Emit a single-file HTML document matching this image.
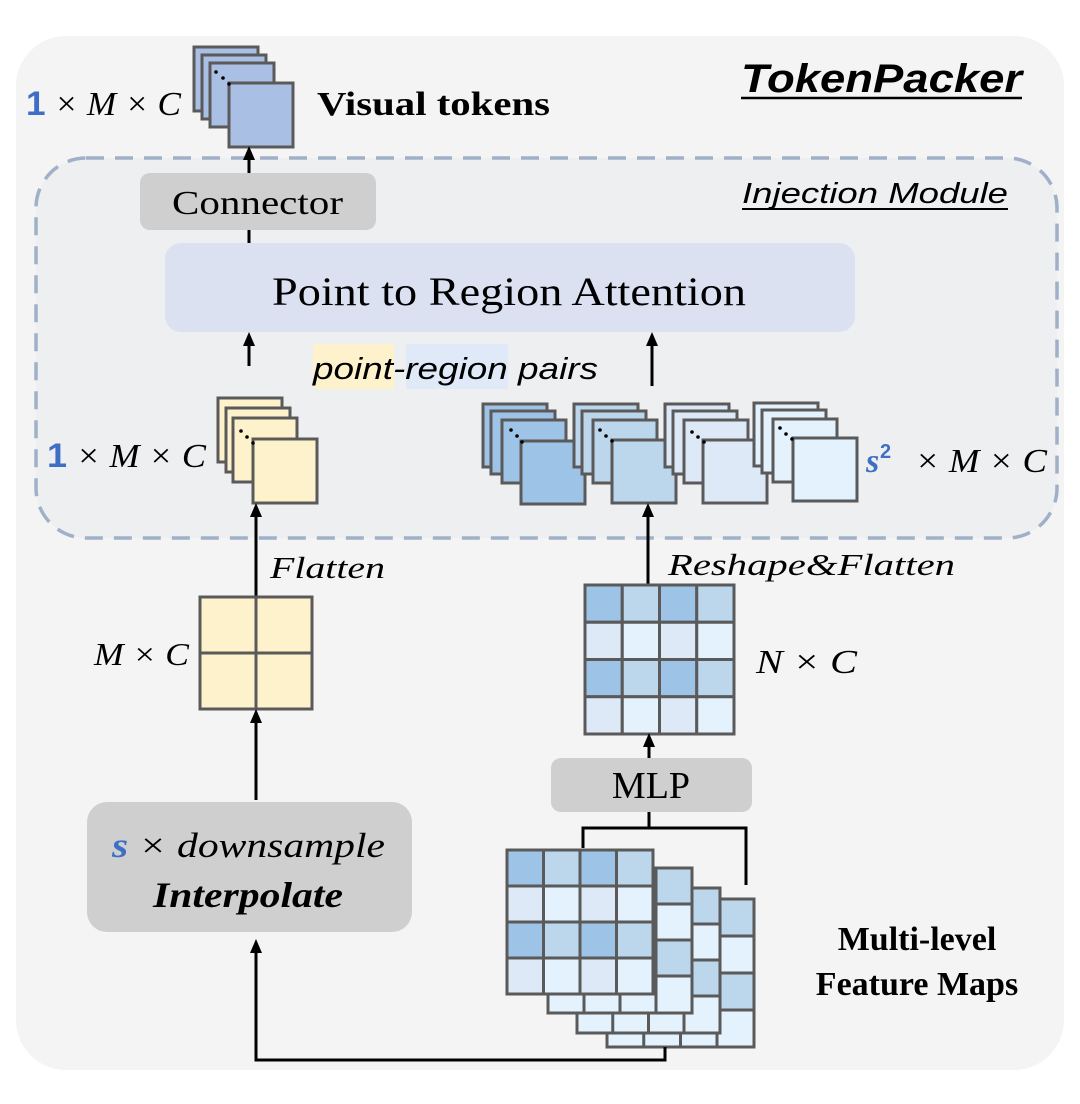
<!DOCTYPE html>
<html><head><meta charset="utf-8"><style>
html,body{margin:0;padding:0;background:#fff;}
svg{display:block;}
.serif{font-family:"Liberation Serif",serif;}
.sans{font-family:"Liberation Sans",sans-serif;}
</style></head><body>
<svg width="1080" height="1104" viewBox="0 0 1080 1104" xmlns="http://www.w3.org/2000/svg">
<defs>
<marker id="ah" markerWidth="14" markerHeight="12" refX="10" refY="6" orient="auto" markerUnits="userSpaceOnUse" viewBox="0 0 14 12">
<path d="M0,0 L14,6 L0,12 z" fill="#000"/></marker>
</defs>
<rect x="16" y="36" width="1048" height="1034" rx="50" fill="#f4f4f4"/>
<rect x="36" y="158" width="1021" height="380" rx="50" fill="#eeeff1" stroke="#9fb0c8" stroke-width="3.5" stroke-dasharray="18,11"/>

<text x="741" y="92" class="sans" font-size="40" font-weight="bold" font-style="italic" textLength="281" lengthAdjust="spacingAndGlyphs">TokenPacker</text>
<line x1="741" y1="98" x2="1022" y2="98" stroke="#000" stroke-width="2.5"/>
<text x="742" y="203" class="sans" font-size="29" font-style="italic" textLength="266" lengthAdjust="spacingAndGlyphs">Injection Module</text>
<line x1="742" y1="209" x2="1008" y2="209" stroke="#000" stroke-width="2"/>

<!-- visual tokens stack -->
<g stroke="#5a5a5a" stroke-width="3" fill="#a9bfe3">
<rect x="194" y="47" width="64" height="64"/>
<rect x="202" y="55" width="64" height="64"/>
<rect x="210" y="63" width="64" height="64"/>
<rect x="229" y="83" width="64" height="64"/>
</g>
<circle cx="216" cy="72" r="1.8"/><circle cx="223" cy="78" r="1.8"/><circle cx="229" cy="84" r="1.8"/>
<text x="26" y="115" class="serif" font-size="34" font-style="italic" textLength="155" lengthAdjust="spacingAndGlyphs"><tspan fill="#3f6fc4" font-weight="bold" font-style="normal" font-family="Liberation Sans">1</tspan> × M × C</text>
<text x="317" y="115" class="serif" font-size="34" font-weight="bold" textLength="233" lengthAdjust="spacingAndGlyphs">Visual tokens</text>

<line x1="249" y1="175" x2="249" y2="150" stroke="#000" stroke-width="3" marker-end="url(#ah)"/>
<rect x="140" y="173" width="236" height="57" rx="10" fill="#d0cfd0"/>
<text x="172" y="214" class="serif" font-size="34" textLength="171" lengthAdjust="spacingAndGlyphs">Connector</text>
<line x1="249" y1="230" x2="249" y2="243" stroke="#000" stroke-width="3"/>

<rect x="165" y="243" width="690" height="89" rx="16" fill="#dce1f2"/>
<text x="272" y="305" class="serif" font-size="40" textLength="474" lengthAdjust="spacingAndGlyphs">Point to Region Attention</text>

<line x1="249" y1="366" x2="249" y2="336" stroke="#000" stroke-width="3" marker-end="url(#ah)"/>
<line x1="652" y1="386" x2="652" y2="336" stroke="#000" stroke-width="3" marker-end="url(#ah)"/>

<rect x="313" y="344" width="81" height="45" fill="#fdf2cc"/>
<rect x="406" y="344" width="102" height="45" fill="#dfe9f7"/>
<text x="313" y="379" class="sans" font-size="31" font-style="italic" textLength="285" lengthAdjust="spacingAndGlyphs">point-region pairs</text>

<!-- yellow stack -->
<g stroke="#5a5a5a" stroke-width="3" fill="#fef2cc">
<rect x="218" y="398" width="64" height="64"/>
<rect x="226" y="408" width="64" height="64"/>
<rect x="233" y="418" width="64" height="64"/>
<rect x="253" y="439" width="64" height="64"/>
</g>
<circle cx="241" cy="431" r="1.8"/><circle cx="247" cy="437" r="1.8"/><circle cx="253" cy="443" r="1.8"/>
<text x="47" y="467" class="serif" font-size="34" font-style="italic" textLength="159" lengthAdjust="spacingAndGlyphs"><tspan fill="#3f6fc4" font-weight="bold" font-style="normal" font-family="Liberation Sans">1</tspan> × M × C</text>

<!-- blue stacks -->
<g stroke="#5a5a5a" stroke-width="3">
<g fill="#9dc3e6">
<rect x="483" y="404" width="64" height="63"/><rect x="491" y="411" width="64" height="63"/><rect x="502" y="420" width="64" height="63"/><rect x="521" y="441" width="64" height="63"/></g>
<g fill="#bcd7ec">
<rect x="574" y="404" width="64" height="63"/><rect x="582" y="411" width="64" height="63"/><rect x="593" y="420" width="64" height="63"/><rect x="612" y="440" width="64" height="63"/></g>
<g fill="#dde9f7">
<rect x="665" y="404" width="64" height="63"/><rect x="673" y="411" width="64" height="63"/><rect x="684" y="420" width="64" height="63"/><rect x="703" y="440" width="64" height="63"/></g>
<g fill="#e3f2fd">
<rect x="754" y="403" width="64" height="63"/><rect x="762" y="410" width="64" height="63"/><rect x="773" y="419" width="64" height="63"/><rect x="793" y="438" width="64" height="63"/></g>
</g>
<g fill="#000">
<circle cx="511" cy="430" r="1.8"/><circle cx="517" cy="436" r="1.8"/><circle cx="522" cy="442" r="1.8"/>
<circle cx="600" cy="430" r="1.8"/><circle cx="606" cy="436" r="1.8"/><circle cx="612" cy="441" r="1.8"/>
<circle cx="692" cy="432" r="1.8"/><circle cx="698" cy="437" r="1.8"/><circle cx="704" cy="442" r="1.8"/>
<circle cx="780" cy="428" r="1.8"/><circle cx="786" cy="434" r="1.8"/><circle cx="792" cy="439" r="1.8"/>
</g>
<text x="866" y="472" class="serif" font-size="34" font-style="italic" fill="#3f6fc4" font-weight="bold">s</text>
<text x="880" y="458" class="sans" font-size="20" fill="#3f6fc4" font-weight="bold">2</text>
<text x="915" y="472" class="serif" font-size="34" font-style="italic" textLength="132" lengthAdjust="spacingAndGlyphs">× M × C</text>

<!-- flatten -->
<line x1="256" y1="597" x2="256" y2="507" stroke="#000" stroke-width="3" marker-end="url(#ah)"/>
<text x="270" y="578" class="serif" font-size="31" font-style="italic" textLength="115" lengthAdjust="spacingAndGlyphs">Flatten</text>
<line x1="648" y1="585" x2="648" y2="507" stroke="#000" stroke-width="3" marker-end="url(#ah)"/>
<text x="668" y="575" class="serif" font-size="31" font-style="italic" textLength="287" lengthAdjust="spacingAndGlyphs">Reshape&amp;Flatten</text>

<!-- M x C grid -->
<g stroke="#5a5a5a" stroke-width="3" fill="#fef2cc">
<rect x="200" y="597" width="56" height="56"/><rect x="256" y="597" width="56" height="56"/>
<rect x="200" y="653" width="56" height="56"/><rect x="256" y="653" width="56" height="56"/>
</g>
<text x="94" y="665" class="serif" font-size="32" font-style="italic" textLength="95" lengthAdjust="spacingAndGlyphs">M × C</text>

<line x1="256" y1="800" x2="256" y2="713" stroke="#000" stroke-width="3" marker-end="url(#ah)"/>
<rect x="87" y="802" width="325" height="130" rx="20" fill="#d0cfd0"/>
<text x="112" y="857" class="serif" font-size="35" font-style="italic" textLength="273" lengthAdjust="spacingAndGlyphs"><tspan fill="#3f6fc4" font-weight="bold">s</tspan> × downsample</text>
<text x="153" y="907" class="serif" font-size="36" font-style="italic" font-weight="bold" textLength="190" lengthAdjust="spacingAndGlyphs">Interpolate</text>

<!-- N x C grid -->
<g stroke="#5a5a5a" stroke-width="3">
<rect x="585" y="585" width="37.25" height="37.25" fill="#9dc3e6"/><rect x="622.25" y="585" width="37.25" height="37.25" fill="#bcd7ec"/><rect x="659.5" y="585" width="37.25" height="37.25" fill="#9dc3e6"/><rect x="696.75" y="585" width="37.25" height="37.25" fill="#bcd7ec"/>
<rect x="585" y="622.25" width="37.25" height="37.25" fill="#dde9f7"/><rect x="622.25" y="622.25" width="37.25" height="37.25" fill="#e3f2fd"/><rect x="659.5" y="622.25" width="37.25" height="37.25" fill="#dde9f7"/><rect x="696.75" y="622.25" width="37.25" height="37.25" fill="#e3f2fd"/>
<rect x="585" y="659.5" width="37.25" height="37.25" fill="#9dc3e6"/><rect x="622.25" y="659.5" width="37.25" height="37.25" fill="#bcd7ec"/><rect x="659.5" y="659.5" width="37.25" height="37.25" fill="#9dc3e6"/><rect x="696.75" y="659.5" width="37.25" height="37.25" fill="#bcd7ec"/>
<rect x="585" y="696.75" width="37.25" height="37.25" fill="#dde9f7"/><rect x="622.25" y="696.75" width="37.25" height="37.25" fill="#e3f2fd"/><rect x="659.5" y="696.75" width="37.25" height="37.25" fill="#dde9f7"/><rect x="696.75" y="696.75" width="37.25" height="37.25" fill="#e3f2fd"/>
</g>
<text x="756" y="673" class="serif" font-size="34" font-style="italic" textLength="101" lengthAdjust="spacingAndGlyphs">N × C</text>

<line x1="649" y1="758" x2="649" y2="737" stroke="#000" stroke-width="3" marker-end="url(#ah)"/>
<rect x="551" y="758" width="201" height="54" rx="10" fill="#d0cfd0"/>
<text x="651" y="798" class="serif" font-size="38" text-anchor="middle">MLP</text>
<path d="M649,812 V828 M583,848 V828 H746 V885" stroke="#000" stroke-width="3" fill="none"/>

<!-- feature maps -->
<g stroke="#5a5a5a" stroke-width="3">
<rect x="607" y="899" width="147" height="148" fill="#e3f2fd"/>
<rect x="717" y="899" width="37" height="37" fill="#bcd7ec"/><rect x="717" y="973" width="37" height="37" fill="#bcd7ec"/>
<path d="M607,1010 H754 M607,973 H754 M607,936 H754 M643.75,899 V1047 M680.5,899 V1047 M717,899 V1047" fill="none"/>
<rect x="577" y="888" width="143" height="145" fill="#e3f2fd"/>
<rect x="684" y="888" width="36" height="36" fill="#bcd7ec"/><rect x="684" y="960" width="36" height="36" fill="#bcd7ec"/>
<path d="M577,996 H720 M577,960 H720 M577,924 H720 M612.75,888 V1033 M648.5,888 V1033 M684,888 V1033" fill="none"/>
<rect x="548" y="868" width="144" height="145" fill="#e3f2fd"/>
<rect x="656" y="868" width="36" height="36" fill="#bcd7ec"/><rect x="656" y="940" width="36" height="36" fill="#bcd7ec"/>
<path d="M548,976 H692 M548,940 H692 M548,904 H692 M584,868 V1013 M620,868 V1013 M656,868 V1013" fill="none"/>
<rect x="507" y="850" width="36.5" height="36" fill="#9dc3e6"/><rect x="543.5" y="850" width="36.5" height="36" fill="#bcd7ec"/><rect x="580" y="850" width="36.5" height="36" fill="#9dc3e6"/><rect x="616.5" y="850" width="36.5" height="36" fill="#bcd7ec"/>
<rect x="507" y="886" width="36.5" height="36" fill="#dde9f7"/><rect x="543.5" y="886" width="36.5" height="36" fill="#e3f2fd"/><rect x="580" y="886" width="36.5" height="36" fill="#dde9f7"/><rect x="616.5" y="886" width="36.5" height="36" fill="#e3f2fd"/>
<rect x="507" y="922" width="36.5" height="36" fill="#9dc3e6"/><rect x="543.5" y="922" width="36.5" height="36" fill="#bcd7ec"/><rect x="580" y="922" width="36.5" height="36" fill="#9dc3e6"/><rect x="616.5" y="922" width="36.5" height="36" fill="#bcd7ec"/>
<rect x="507" y="958" width="36.5" height="36" fill="#dde9f7"/><rect x="543.5" y="958" width="36.5" height="36" fill="#e3f2fd"/><rect x="580" y="958" width="36.5" height="36" fill="#dde9f7"/><rect x="616.5" y="958" width="36.5" height="36" fill="#e3f2fd"/>
</g>
<text x="917" y="950" class="serif" font-size="34" font-weight="bold" text-anchor="middle">Multi-level</text>
<text x="917" y="995" class="serif" font-size="34" font-weight="bold" text-anchor="middle">Feature Maps</text>

<path d="M665,1047 V1060 H256 V943" stroke="#000" stroke-width="3" fill="none" marker-end="url(#ah)"/>
</svg>
</body></html>
